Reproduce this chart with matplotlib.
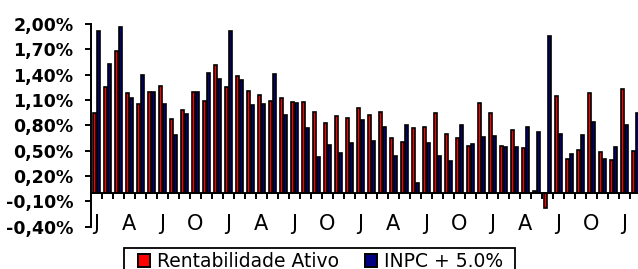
import matplotlib
matplotlib.use('Agg')
import matplotlib.pyplot as plt
from matplotlib.patches import Rectangle
import numpy as np

# --- data (values in %) ---
rentabilidade = [0.95, 1.25, 1.68, 1.18, 1.05, 1.20, 1.26, 0.87, 0.98, 1.19,
                 1.09, 1.52, 1.25, 1.38, 1.21, 1.16, 1.09, 1.12, 1.08, 1.08,
                 0.96, 0.83, 0.91, 0.89, 1.00, 0.92, 0.96, 0.65, 0.60, 0.77,
                 0.78, 0.95, 0.70, 0.65, 0.55, 1.07, 0.95, 0.56, 0.75, 0.53,
                 0.02, -0.18, 1.15, 0.40, 0.51, 1.18, 0.48, 0.39, 1.23, 0.50]
inpc = [1.92, 1.53, 1.97, 1.12, 1.40, 1.20, 1.05, 0.68, 0.94, 1.20,
        1.42, 1.35, 1.92, 1.34, 1.04, 1.05, 1.41, 0.92, 1.07, 0.77,
        0.42, 0.57, 0.47, 0.59, 0.86, 0.61, 0.78, 0.44, 0.80, 0.12,
        0.59, 0.44, 0.38, 0.80, 0.58, 0.66, 0.67, 0.54, 0.54, 0.78,
        0.72, 1.86, 0.70, 0.46, 0.69, 0.84, 0.40, 0.54, 0.80, 0.95]
month_labels = ['J', 'A', 'J', 'O', 'J', 'A', 'J', 'O', 'J', 'A', 'J', 'O',
                'J', 'A', 'J', 'O', 'J']
ytick_values = [-0.40, -0.10, 0.20, 0.50, 0.80, 1.10, 1.40, 1.70, 2.00]
ytick_labels = ['-0,40%', '-0,10%', '0,20%', '0,50%', '0,80%', '1,10%',
                '1,40%', '1,70%', '2,00%']
series_names = ['Rentabilidade Ativo', 'INPC + 5.0%']

W, H = 638, 269
fig = plt.figure(figsize=(W / 100, H / 100), dpi=100)
fig.patch.set_facecolor('white')

left_px, right_px = 90.7, 641.0
top_px, bot_px = 24.0, 226.7
ax = fig.add_axes([left_px / W, 1 - bot_px / H,
                   (right_px - left_px) / W, (bot_px - top_px) / H])

x = np.arange(len(rentabilidade))
bw = 0.24
off = 0.18
ax.bar(x - off, rentabilidade, bw, color='#FF0000', edgecolor='black',
       linewidth=1.2, label=series_names[0], zorder=3)
ax.bar(x + off, inpc, bw, color='#000080', edgecolor='black',
       linewidth=1.2, label=series_names[1], zorder=3)

ax.set_xlim(-0.5, len(rentabilidade) - 0.5)
ax.set_ylim(-0.40, 2.00)

for s in ['top', 'right']:
    ax.spines[s].set_visible(False)
ax.spines['bottom'].set_position(('data', 0))
ax.spines['bottom'].set_linewidth(1.4)
ax.spines['left'].set_linewidth(1.4)
ax.spines['bottom'].set_zorder(4)

ax.set_xticks(np.arange(0.5, len(rentabilidade) - 0.5, 1))
ax.tick_params(axis='x', direction='out', length=4.3, width=1.4,
               labelbottom=False)
ax.set_yticks(ytick_values)
ax.set_yticklabels(ytick_labels, fontweight='bold', fontsize=12.5,
                   family='DejaVu Sans')
ax.tick_params(axis='y', direction='out', length=4.1, width=1.4, pad=8.4)

for i, lab in zip(range(0, len(rentabilidade), 3), month_labels):
    ax.text(i, -0.44, lab, ha='center', va='baseline', fontsize=15,
            family='DejaVu Sans', clip_on=False)

leg = fig.legend(loc='upper left', bbox_to_anchor=(138 / W, 1 - 252 / H),
                 ncol=2, frameon=False, borderpad=0, borderaxespad=0,
                 handlelength=0.64, handleheight=0.64, handletextpad=0.36,
                 columnspacing=1.42, prop={'family': 'DejaVu Sans', 'size': 13.5})
for hnd in leg.legend_handles:
    hnd.set_linewidth(1.4)

fig.patches.append(Rectangle((124 / W, -20 / H), (515 - 124) / W,
                             (269 - 248 + 20) / H, transform=fig.transFigure,
                             fill=False, edgecolor='black', linewidth=1.3))

fig.savefig('out.png', dpi=100)
